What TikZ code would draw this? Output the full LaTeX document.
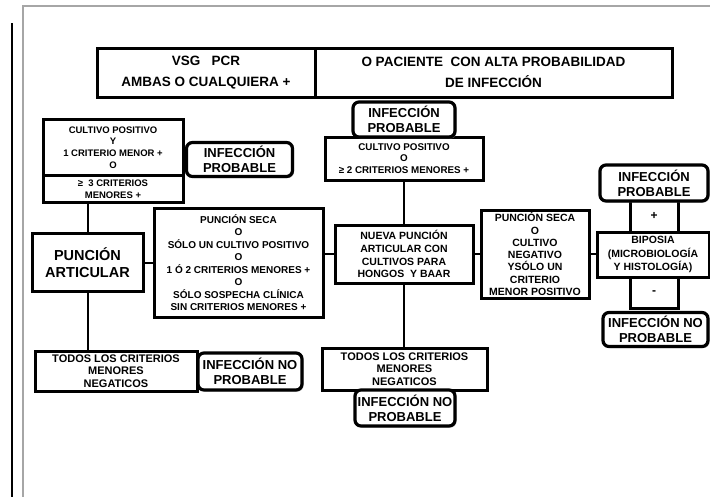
\documentclass[tikz,border=0pt]{standalone}
\usepackage{fontspec}
\setmainfont{Liberation Sans}
\usetikzlibrary{shadows}
\tikzset{
  box/.style={draw, line width=3pt, fill=white, align=center, inner sep=1pt, font=\bfseries},
  rbox/.style={box, rounded corners=6pt, line width=3.2pt,
    drop shadow={shadow xshift=1.5pt, shadow yshift=-1.5pt, fill=black!45, opacity=0.6}},
  conn/.style={line width=2pt},
  fs/.style n args={2}{font=\bfseries\fontsize{#1}{#2}\selectfont},
}
\begin{document}
\begin{tikzpicture}[x=1pt,y=-1pt]
\useasboundingbox (0,0) rectangle (710,496);
\clip (0,0) rectangle (710,496);
% frame lines
\draw[black!35, line width=1.5pt] (720,6) -- (23,6) -- (23,500);
\draw[line width=2pt] (12,23) -- (12,500);

% top boxes
\node[box, fs={13.5}{21}, minimum width=218pt, minimum height=49pt] (vsg) at (206,72.5) {VSG\ \ \ PCR\\AMBAS O CUALQUIERA +};
\node[box, fs={13.5}{21}, minimum width=357pt, minimum height=49pt] (pac) at (493.5,72.5) {O PACIENTE\ \ CON ALTA PROBABILIDAD\\DE INFECCIÓN};

% left column
\node[box, fs={9.5}{11.7}, minimum width=140pt, minimum height=56pt] (cp1) at (113,147.5) {CULTIVO POSITIVO\\Y\\1 CRITERIO MENOR +\\O};
\node[box, fs={9.5}{11.5}, minimum width=140pt, minimum height=27pt] (cm3) at (113,189) {≥\ \ 3 CRITERIOS\\MENORES +};
\node[rbox, fs={13}{15}, minimum width=106pt, minimum height=34pt] (ip2) at (239.5,159.5) {INFECCIÓN\\PROBABLE};
\node[box, fs={14.5}{17}, minimum width=111pt, minimum height=58pt] (pa) at (87.5,262.5) {PUNCIÓN\\ARTICULAR};
\node[box, fs={11}{12.5}, minimum width=162pt, minimum height=40pt] (bl) at (116,371) {TODOS LOS CRITERIOS\\MENORES\\NEGATICOS};
\node[rbox, fs={13}{15}, minimum width=104pt, minimum height=37pt] (inp2) at (250,371.5) {INFECCIÓN NO\\PROBABLE};

% middle
\node[box, fs={10}{12.5}, minimum width=169pt, minimum height=109pt] (ps1) at (238.5,262.5) {PUNCIÓN SECA\\O\\SÓLO UN CULTIVO POSITIVO\\O\\1 Ó 2 CRITERIOS MENORES +\\O\\SÓLO SOSPECHA CLÍNICA\\SIN CRITERIOS MENORES +};
\node[box, fs={9.8}{11.8}, minimum width=158pt, minimum height=43pt] (cp2) at (404,158.5) {CULTIVO POSITIVO\\O\\≥ 2 CRITERIOS MENORES +};
\node[rbox, fs={13}{15}, minimum width=102pt, minimum height=35pt] (ip1) at (404,119.5) {INFECCIÓN\\PROBABLE};
\node[box, fs={10.5}{12.8}, minimum width=138pt, minimum height=58pt] (np) at (404,254) {NUEVA PUNCIÓN\\ARTICULAR CON\\CULTIVOS PARA\\HONGOS\ \ Y BAAR};
\node[box, fs={11}{12.5}, minimum width=165pt, minimum height=42pt] (bm) at (404.5,369) {TODOS LOS CRITERIOS\\MENORES\\NEGATICOS};
\node[rbox, fs={13}{15}, minimum width=100pt, minimum height=36pt] (inp3) at (405,408) {INFECCIÓN NO\\PROBABLE};

% right
\node[box, fs={10.5}{12.3}, minimum width=108pt, minimum height=88pt] (ps2) at (535,254) {PUNCIÓN SECA\\O\\CULTIVO\\NEGATIVO\\YSÓLO UN\\CRITERIO\\MENOR POSITIVO};
\node[box, fs={12}{14}, minimum width=48pt, minimum height=32pt] (plus) at (654,216) {+};
\node[box, fs={12}{14}, minimum width=48pt, minimum height=32pt] (minus) at (654,292.5) {-};
\node[rbox, fs={13}{15}, minimum width=108pt, minimum height=36pt] (ip3) at (654,183) {INFECCIÓN\\PROBABLE};
\node[box, fs={10.5}{13.5}, minimum width=112pt, minimum height=45pt] (bio) at (653,254.5) {BIPOSIA\\(MICROBIOLOGÍA\\Y HISTOLOGÍA)};
\node[rbox, fs={13}{15}, minimum width=105pt, minimum height=34pt] (inp1) at (655.5,329.5) {INFECCIÓN NO\\PROBABLE};

% connectors
\draw[conn] (pa.north) -- (pa.north |- cm3.south);
\draw[conn] (pa.south) -- (pa.south |- bl.north);
\draw[conn] (pa.east) -- (ps1.west);
\draw[conn] (np.west -| ps1.east) -- (np.west);
\draw[conn] (np.north) -- (np.north |- cp2.south);
\draw[conn] (np.south) -- (np.south |- bm.north);
\draw[conn] (np.east) -- (np.east -| ps2.west);
\draw[conn] (ps2.east) -- (ps2.east -| bio.west);
\end{tikzpicture}
\end{document}
